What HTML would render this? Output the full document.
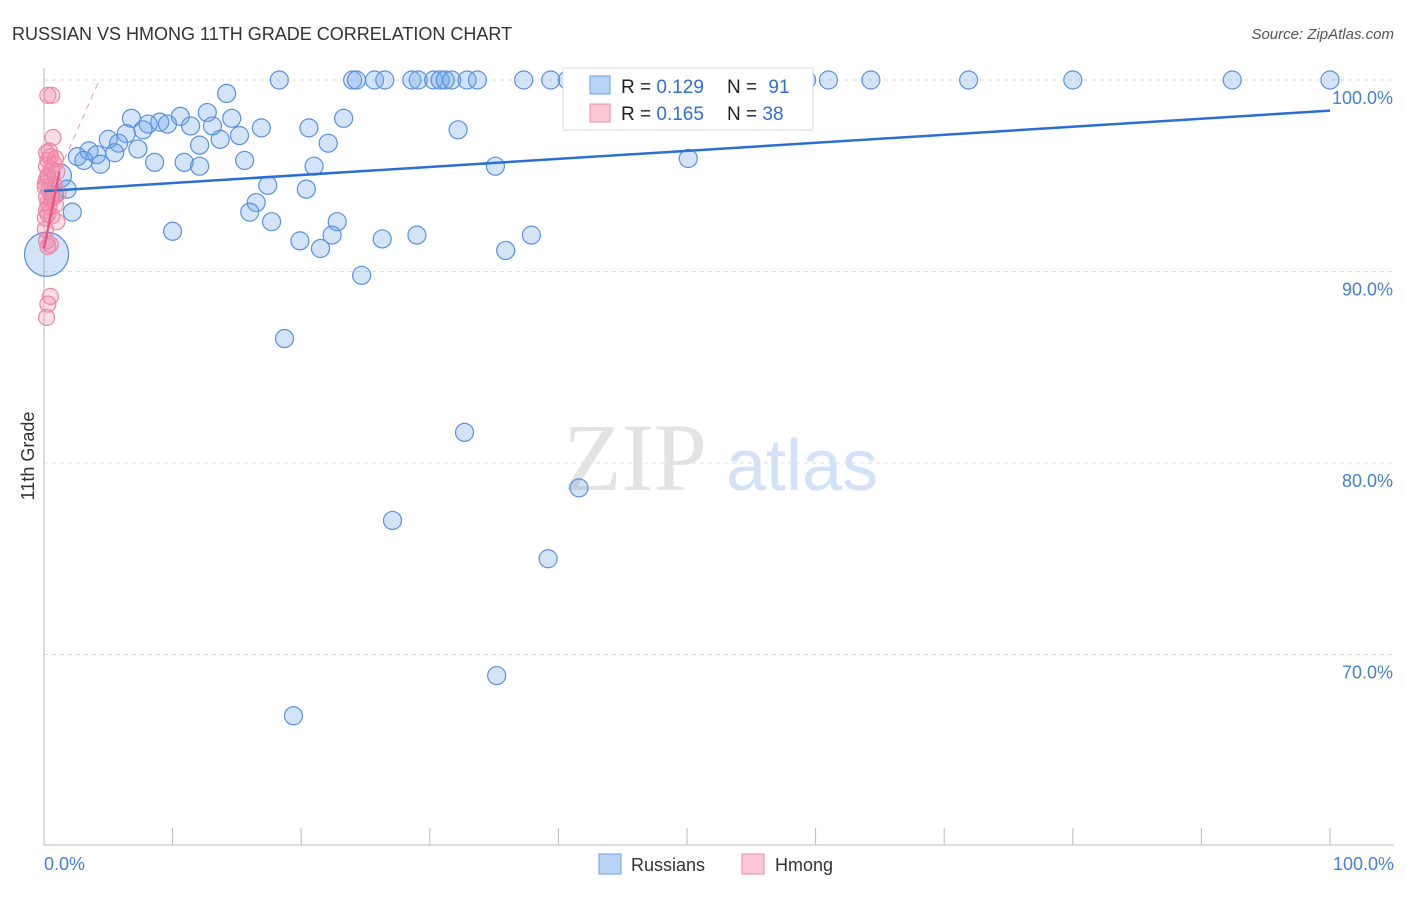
<!DOCTYPE html>
<html><head><meta charset="utf-8"><style>
body{margin:0;background:#fff;font-family:"Liberation Sans",sans-serif}
</style></head><body>
<svg width="1406" height="892" xmlns="http://www.w3.org/2000/svg" id="chart">
<text x="12" y="40" font-size="18" fill="#333">RUSSIAN VS HMONG 11TH GRADE CORRELATION CHART</text>
<text x="1394" y="39" font-size="15" fill="#555" font-style="italic" text-anchor="end">Source: ZipAtlas.com</text>
<g>
<text x="635" y="490" font-size="96" font-family="Liberation Serif,serif" fill="#e3e3e3" text-anchor="middle">ZIP</text>
<text x="802" y="490" font-size="72" fill="#d3e2f6" text-anchor="middle">atlas</text>
</g>
<g id="grid"></g><g id="marks"></g>
<text x="34" y="456" font-size="18" fill="#333" text-anchor="middle" transform="rotate(-90 34 456)">11th Grade</text>
<g>
<rect x="563" y="68" width="250" height="62" fill="#fff" stroke="#ddd"/>
<rect x="590" y="76" width="20" height="18" fill="#b8d3f5" stroke="#6e9fe0"/>
<rect x="590" y="104" width="20" height="18" fill="#fcc7d6" stroke="#ee8aa8"/>
<text x="621" y="93" font-size="19" fill="#222">R = <tspan fill="#2f6fd6">0.129</tspan></text>
<text x="727" y="93" font-size="19" fill="#222">N = <tspan fill="#2f6fd6" dx="6">91</tspan></text>
<text x="621" y="120" font-size="19" fill="#222">R = <tspan fill="#2f6fd6">0.165</tspan></text>
<text x="727" y="120" font-size="19" fill="#222">N = <tspan fill="#2f6fd6">38</tspan></text>
</g>
<g>
<rect x="599" y="854" width="22" height="20" fill="#b8d3f5" stroke="#6e9fe0"/>
<text x="631" y="871" font-size="18" fill="#333">Russians</text>
<rect x="742" y="854" width="22" height="20" fill="#fcc7d6" stroke="#ee8aa8"/>
<text x="775" y="871" font-size="18" fill="#333">Hmong</text>
</g>
<text x="44" y="870" font-size="18" fill="#4a7fd6">0.0%</text>
<text x="1394" y="870" font-size="18" fill="#4a7fd6" text-anchor="end">100.0%</text>
</svg>
<script>
const yTicks=[100,90,80,70];
const yTickLabels=["100.0%","90.0%","80.0%","70.0%"];
const xTicks=[0,10,20,30,40,50,60,70,80,90,100];
const russX=[18.3,24.0,24.3,25.7,26.5,28.6,29.1,30.3,30.8,31.2,31.7,32.9,33.7,37.3,39.4,40.7,47.1,52.5,59.3,61.0,64.3,71.9,80.0,92.4,100,14.2,6.8,10.6,12.7,8.1,9.0,9.6,11.4,13.1,14.6,16.9,20.6,23.3,32.2,6.4,7.7,15.2,5.0,13.7,5.8,7.3,12.1,22.1,3.5,5.5,4.1,2.6,3.1,4.4,8.6,10.9,12.1,15.6,21.0,35.1,50.1,1.2,17.4,20.4,1.8,0.8,16.5,2.2,16.0,17.7,22.8,10.0,22.4,26.3,29.0,37.9,19.9,21.5,35.9,0.2,24.7,18.7,32.7,41.6,27.1,39.2,35.2,19.4];
const russY=[100,100,100,100,100,100,100,100,100,100,100,100,100,100,100,100,100,100,100,100,100,100,100,100,100,99.3,98.0,98.1,98.3,97.7,97.8,97.7,97.6,97.6,98.0,97.5,97.5,98.0,97.4,97.2,97.4,97.1,96.9,96.9,96.7,96.4,96.6,96.7,96.3,96.2,96.1,96.0,95.8,95.6,95.7,95.7,95.5,95.8,95.5,95.5,95.9,95.0,94.5,94.3,94.3,94.0,93.6,93.1,93.1,92.6,92.6,92.1,91.9,91.7,91.9,91.9,91.6,91.2,91.1,90.9,89.8,86.5,81.6,78.7,77.0,75.0,68.9,66.8];
const russR=russX.map((x,i)=>i===79?22:(i===61?12:9));
const hmX=[0.3,0.6,0.7,0.4,0.2,0.9,0.3,0.8,0.2,0.6,1.0,0.3,0.2,0.8,0.1,0.4,1.1,0.2,0.6,0.3,0.9,0.2,0.3,0.6,0.1,1.0,0.2,0.5,0.3,0.1,0.6,0.3,0.5,0.4,0.1,0.5,0.3,0.2];
const hmY=[99.2,99.2,97.0,96.3,96.2,95.9,95.8,95.6,95.5,95.3,95.2,94.9,94.8,94.5,94.4,94.3,94.1,93.9,93.8,93.6,93.5,93.2,93.0,92.9,92.8,92.6,91.6,91.4,91.3,94.6,94.0,95.0,96.0,93.4,92.2,88.7,88.3,87.6];
const russTrend=[[0,94.2],[100,98.4]];
const hmTrend=[[0,91.2],[1.2,95.2]];
const hmDash=[[0.9,94.8],[4.3,100]];
const X=v=>44+v*12.86, Y=v=>80+(100-v)*19.15;
const NS="http://www.w3.org/2000/svg";
function mk(t,a,p){const e=document.createElementNS(NS,t);for(const k in a)e.setAttribute(k,a[k]);p.appendChild(e);return e;}
const g=document.getElementById('grid'),m=document.getElementById('marks');
yTicks.forEach((t,i)=>{const l=mk('line',{x1:44,x2:1394,y1:Y(t),y2:Y(t),stroke:'#ddd','stroke-dasharray':'4,4'},g);

const tx=mk('text',{x:1393,y:Y(t)+24,'font-size':18,fill:'#4a7fd6','text-anchor':'end'},g);tx.textContent=yTickLabels[i];
});
xTicks.forEach(t=>{const l=mk('line',{x1:X(t),x2:X(t),y1:828,y2:845,stroke:'#bbb'},g);
});
let a=mk('line',{x1:44,x2:1394,y1:845,y2:845,stroke:'#bbb'},g);
a=mk('line',{x1:44,x2:44,y1:68,y2:845,stroke:'#bbb'},g);
russX.forEach((x,i)=>{const c=mk('circle',{cx:X(x),cy:Y(russY[i]),r:russR[i],fill:'rgba(110,165,235,0.3)',stroke:'#5a90dc','stroke-width':1.2},m);
});
hmX.forEach((x,i)=>{const c=mk('circle',{cx:X(x),cy:Y(hmY[i]),r:8,fill:'rgba(245,140,170,0.3)',stroke:'#ec86a6','stroke-width':1.2},m);
});
let l=mk('line',{x1:X(russTrend[0][0]),y1:Y(russTrend[0][1]),x2:X(russTrend[1][0]),y2:Y(russTrend[1][1]),stroke:'#2a6fd4','stroke-width':2.5},m);

l=mk('line',{x1:X(hmTrend[0][0]),y1:Y(hmTrend[0][1]),x2:X(hmTrend[1][0]),y2:Y(hmTrend[1][1]),stroke:'#e05a85','stroke-width':2.5},m);

l=mk('line',{x1:X(hmDash[0][0]),y1:Y(hmDash[0][1]),x2:X(hmDash[1][0]),y2:Y(hmDash[1][1]),stroke:'#ec9ab4','stroke-width':1,'stroke-dasharray':'6,5'},m);

</script>
</body></html>
